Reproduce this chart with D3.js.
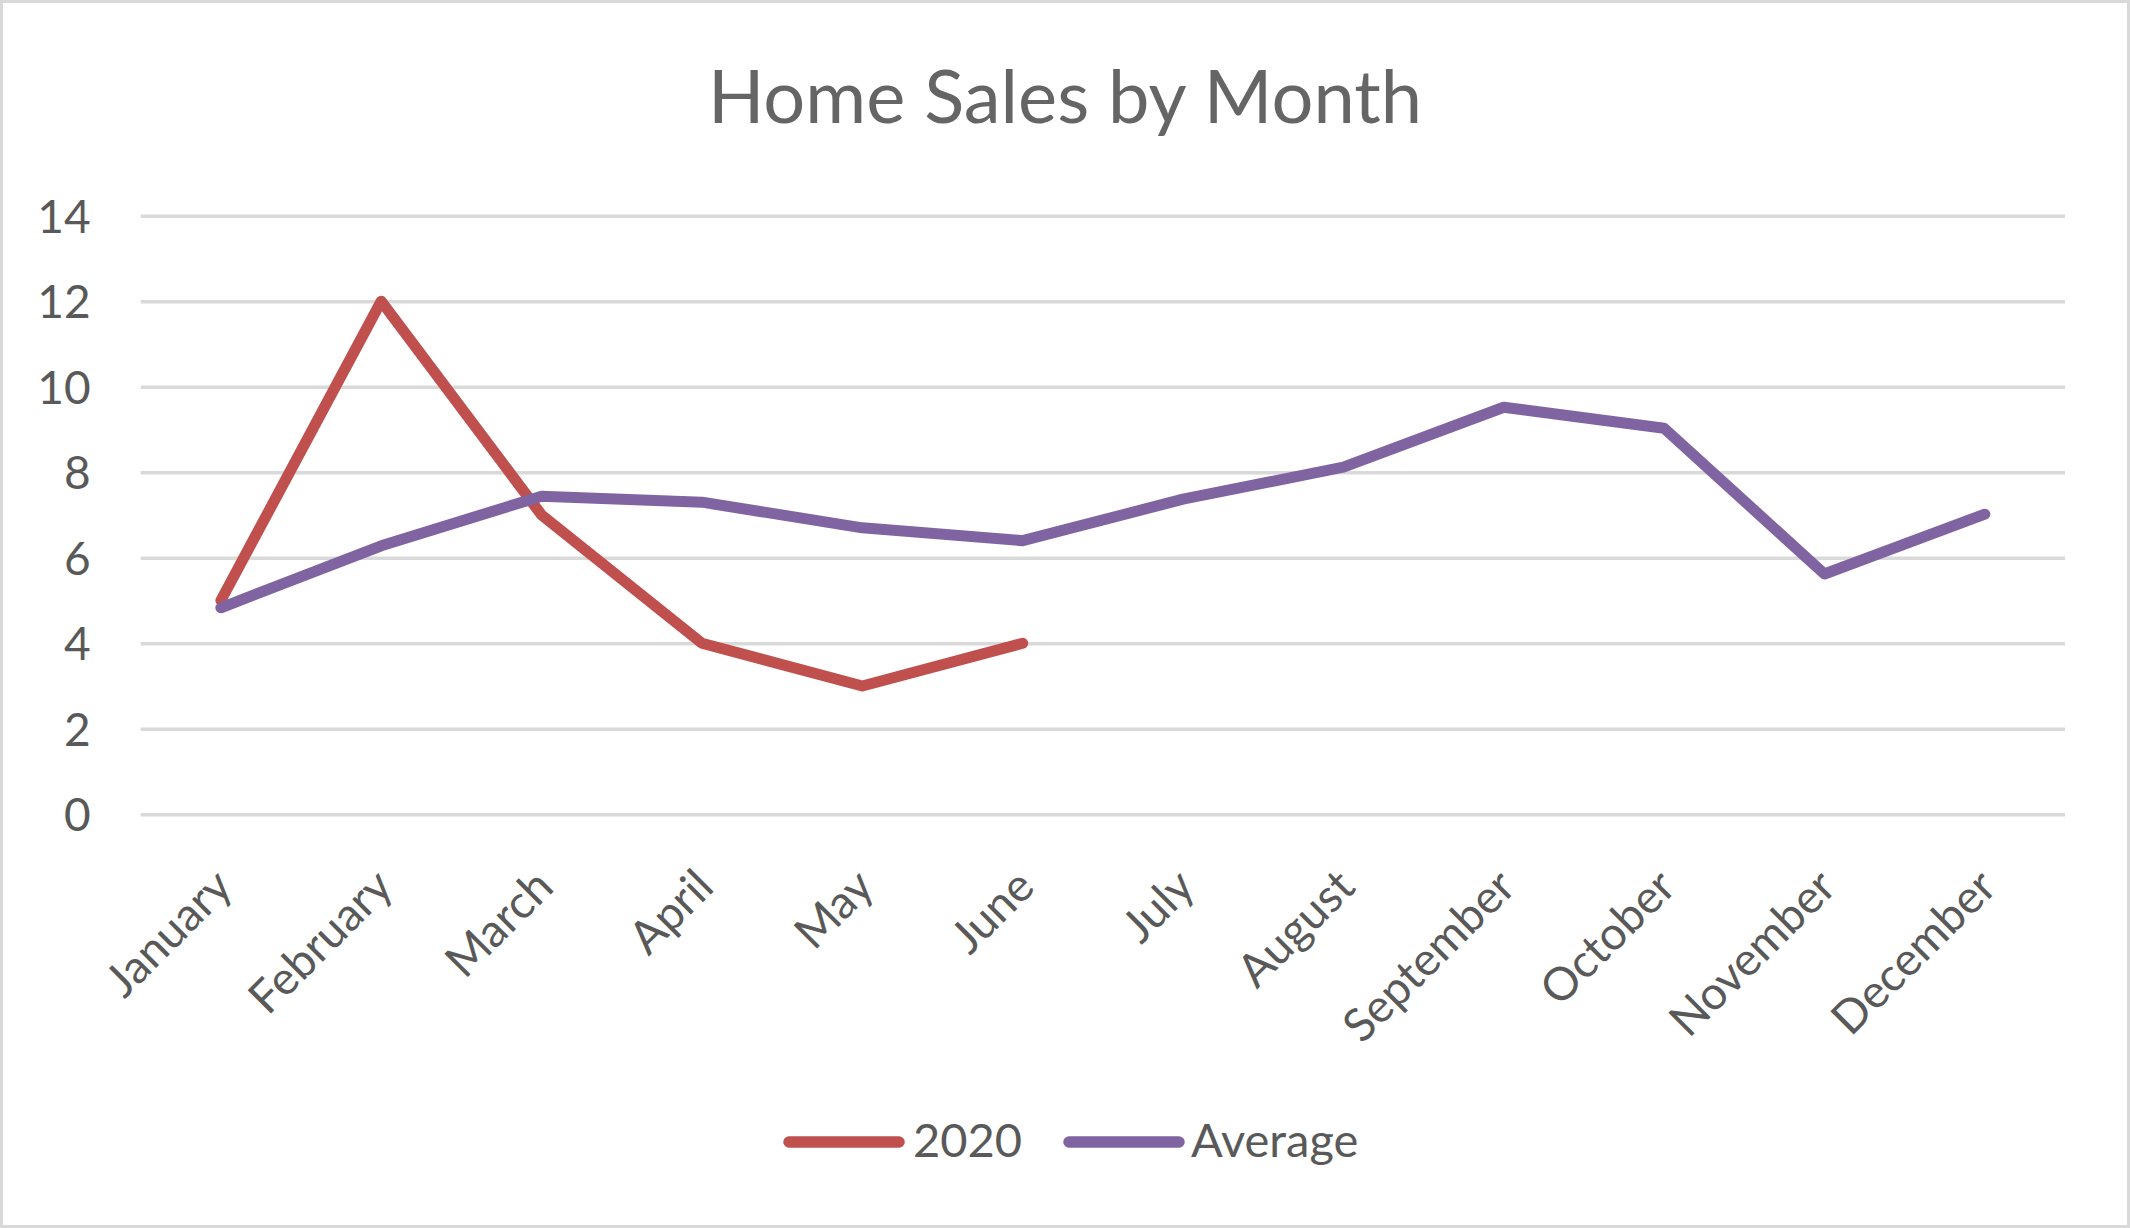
<!DOCTYPE html>
<html>
<head>
<meta charset="utf-8">
<script src="https://cdn.jsdelivr.net/npm/d3@7"></script>
<style>
  html, body { margin: 0; padding: 0; background: #fff; }
  svg { display: block; font-family: "Lato", "Noto Sans", sans-serif; }
</style>
</head>
<body>
<div id="chart"></div>
<script>
// Data
const months = ["January", "February", "March", "April", "May", "June",
                "July", "August", "September", "October", "November", "December"];
const sales2020 = [5, 12, 7, 4, 3, 4];
const salesAverage = [4.83, 6.28, 7.44, 7.3, 6.7, 6.4, 7.37, 8.12, 9.52, 9.03, 5.62, 7.02];
const yTicks = [0, 2, 4, 6, 8, 10, 12, 14];
const seriesNames = ["2020", "Average"];
const seriesColors = ["#C0504D", "#8064A2"];

const width = 2130, height = 1228;
const margin = { top: 215.7, right: 65, bottom: 413.7, left: 140.7 };
const innerWidth = width - margin.left - margin.right;
const innerHeight = height - margin.top - margin.bottom;

const svg = d3.select("#chart")
    .append("svg")
    .attr("width", width)
    .attr("height", height);

// Chart border
svg.append("rect")
    .attr("x", 1.5).attr("y", 1.5)
    .attr("width", width - 3).attr("height", height - 3)
    .attr("fill", "#fff")
    .attr("stroke", "#d9d9d9")
    .attr("stroke-width", 3);

// Title
svg.append("text")
    .attr("x", width / 2)
    .attr("y", 123)
    .attr("text-anchor", "middle")
    .style("font-size", "74px")
    .style("fill", "#656565")
    .text("Home Sales by Month");

// Scales
const xScale = d3.scalePoint().domain(months).range([0, innerWidth]).padding(0.5);
const yScale = d3.scaleLinear().domain([0, 14]).range([innerHeight, 0]);

const plot = svg.append("g")
    .attr("transform", `translate(${margin.left}, ${margin.top})`);

// Y axis with gridlines
const yAxis = d3.axisLeft(yScale)
    .tickValues(yTicks)
    .tickSize(-innerWidth)
    .tickPadding(50);

const yAxisGroup = plot.append("g")
    .attr("class", "y-axis")
    .call(yAxis);

yAxisGroup.select(".domain").remove();
yAxisGroup.selectAll(".tick line")
    .attr("stroke", "#d9d9d9")
    .attr("stroke-width", 3.5);
yAxisGroup.selectAll(".tick text")
    .attr("dy", "0.36em")
    .style("font-size", "46px")
    .style("font-family", "Lato, 'Noto Sans', sans-serif")
    .style("fill", "#595959");

// X axis labels, rotated
const xLabels = plot.append("g").attr("class", "x-labels");
xLabels.selectAll("text")
    .data(months)
    .join("text")
    .attr("transform", d => `translate(${xScale(d) + 14}, ${innerHeight + 75}) rotate(-45)`)
    .attr("text-anchor", "end")
    .style("font-size", "46px")
    .style("fill", "#595959")
    .text(d => d);

// Lines
const line = d3.line()
    .x((d, i) => xScale(months[i]))
    .y(d => yScale(d));

[sales2020, salesAverage].forEach((values, k) => {
    plot.append("path")
        .datum(values)
        .attr("fill", "none")
        .attr("stroke", seriesColors[k])
        .attr("stroke-width", 11)
        .attr("stroke-linejoin", "round")
        .attr("stroke-linecap", "round")
        .attr("d", line);
});

// Legend
const legendItems = [
    { lineX: 789, textX: 913 },
    { lineX: 1069, textX: 1191 }
];
const legendY = 1142;
const legend = svg.append("g").attr("class", "legend");
seriesNames.forEach((name, k) => {
    const pos = legendItems[k];
    legend.append("line")
        .attr("x1", pos.lineX).attr("x2", pos.lineX + 110)
        .attr("y1", legendY).attr("y2", legendY)
        .attr("stroke", seriesColors[k])
        .attr("stroke-width", 11.5)
        .attr("stroke-linecap", "round");
    legend.append("text")
        .attr("x", pos.textX)
        .attr("y", 1157)
        .style("font-size", "47px")
        .style("fill", "#595959")
        .text(name);
});
</script>
</body>
</html>
